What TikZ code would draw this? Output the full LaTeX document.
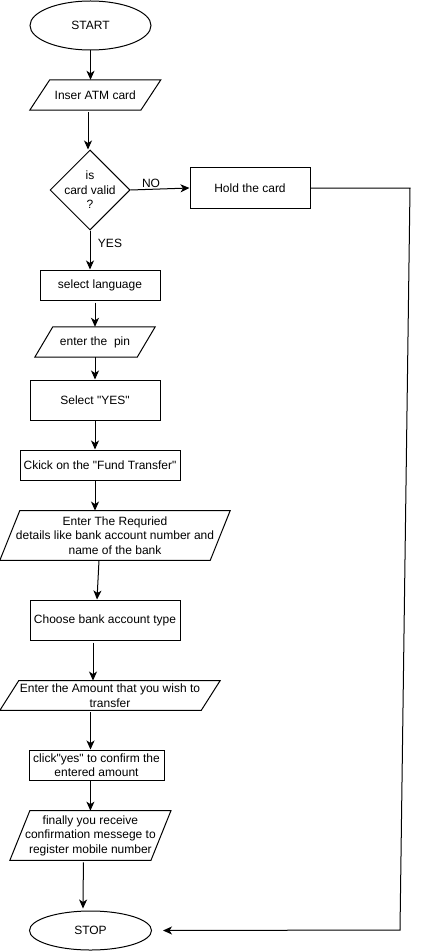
\documentclass[tikz,border=0pt]{standalone}
\usepackage{fontspec}
\setmainfont{Liberation Sans}[Ligatures=TeXOff]
\usetikzlibrary{shapes.geometric,arrows.meta,calc}
\newcommand{\drawpara}[2]{\draw[iopath] ($(#1.north west)+(#2,0)$) -- (#1.north east) -- ($(#1.south east)-(#2,0)$) -- (#1.south west) -- cycle;}
\begin{document}
\begin{tikzpicture}[x=1pt,y=-1pt,
  every node/.style={font=\fontsize{12}{14.5}\selectfont, align=center, inner sep=0pt},
  box/.style={draw, line width=1pt, rectangle},
  term/.style={draw, line width=1pt, ellipse},
  decision/.style={draw, line width=1pt, diamond, minimum width=80pt, minimum height=80pt},
  io/.style={rectangle, draw=none},
  iopath/.style={draw, line width=1pt, line join=miter},
  arr/.style={line width=1pt, -{Stealth[length=9pt,width=8pt,inset=2.5pt]}}]
\useasboundingbox (0,0) rectangle (420,952);

\node[term, minimum width=121pt, minimum height=49pt] (start) at (90.5,25.5) {START};
\node[io, minimum width=130.7pt, minimum height=30pt] (inser) at (95.3,95) {Inser ATM card};
\drawpara{inser}{20}
\node[decision] (dec) at (90,190) {};
\node (dectext) at (90,190) {is\\card valid\\?};
\node[box, minimum width=120pt, minimum height=40pt] (hold) at (250,188) {Hold the card};
\node[box, minimum width=120pt, minimum height=30pt] (lang) at (100,285) {select language};
\node[io, minimum width=120pt, minimum height=30pt] (pin) at (95,342) {enter the\ \ pin};
\drawpara{pin}{18}
\node[box, minimum width=130pt, minimum height=40pt] (yes) at (95,400) {Select "YES"};
\node[box, minimum width=160pt, minimum height=30pt] (fund) at (100,465) {Ckick on the "Fund Transfer"};
\node[io, minimum width=230pt, minimum height=49.5pt] (req) at (115,535.5) {Enter The Requried\\details like bank account number and\\name of the bank};
\drawpara{req}{20}
\node[box, minimum width=150pt, minimum height=40pt] (choose) at (105,620) {Choose bank account type};
\node[io, minimum width=220pt, minimum height=29.5pt] (amt) at (110,695.5) {Enter the Amount that you wish to\\transfer};
\drawpara{amt}{19}
\node[box, minimum width=135pt, minimum height=30pt] (click) at (96.5,765) {click"yes" to confirm the\\entered amount};
\node[io, minimum width=160.7pt, minimum height=49.3pt] (fin) at (90.4,835.5) {finally you receive\\confirmation messege to\\register mobile number};
\drawpara{fin}{20}
\node[term, minimum width=122pt, minimum height=39pt] (stop) at (90.5,930.5) {STOP};

\node (nolbl) at (151,183) {NO};
\node (yeslbl) at (110,243) {YES};

\draw[arr] (start.south) -- (start.south |- inser.north);
\draw[arr] ($(dec.north |- inser.south)+(-2,2)$) -- ($(dec.north)+(-2,0)$);
\draw[arr] (dec.east) -- (hold.west);
\draw[arr] (dec.south) -- (dec.south |- lang.north);
\draw[arr] ($(lang.south -| pin.north)+(0,2)$) -- (pin.north);
\draw[arr] (pin.south) -- (yes.north);
\draw[arr] (yes.south) -- (yes.south |- fund.north);
\draw[arr] (yes.south |- fund.south) -- (yes.south |- req.north);
\draw[arr] ($(req.south)+(-16,0)$) -- ($(choose.north)+(-8,0)$);
\draw[arr] ($(choose.south)+(-12,2)$) -- ($(choose.south |- amt.north)+(-12,0)$);
\draw[arr] ($(stop.north |- amt.south)+(0,2)$) -- (stop.north |- click.north);
\draw[arr] (fin.north |- click.south) -- (fin.north);
\draw[arr] ($(fin.south)+(-7,2)$) -- ($(stop.north)+(-7.5,-2)$);

\coordinate (c1) at (410,188);
\coordinate (c2) at (400,930);
\draw[arr] (hold.east) -- (c1) -- (c2) -- ($(stop.east)+(11,0)$);
\end{tikzpicture}
\end{document}
